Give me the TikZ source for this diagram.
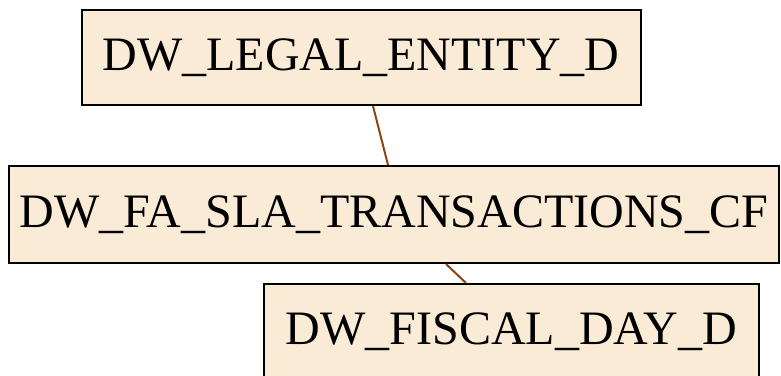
\documentclass[tikz,border=0pt]{standalone}
\usepackage{fontspec}
\setmainfont{Liberation Serif}
\definecolor{boxfill}{HTML}{FAEBD7}
\definecolor{edgecol}{HTML}{8B4513}
\begin{document}
\begin{tikzpicture}[x=1pt,y=1pt,
  tbl/.style={draw=black, line width=2pt, fill=boxfill, inner sep=0pt,
    font=\fontsize{48}{48}\selectfont, text height=25pt, text depth=0pt},
  link/.style={draw=edgecol, line width=2pt}]
\useasboundingbox (0,0) rectangle (781,-375);
\node[tbl, minimum width=559pt, minimum height=95pt] (b1) at (361,-57.5) {DW\_LEGAL\_ENTITY\_D};
\node[tbl, minimum width=770pt, minimum height=97pt] (b2) at (394,-214.5) {DW\_FA\_SLA\_TRANSACTIONS\_CF};
\node[tbl, minimum width=495pt, minimum height=96pt] (b3) at (511.5,-332) {DW\_FISCAL\_DAY\_D};
\draw[link] ([xshift=12pt]b1.south) -- ([xshift=-6pt]b2.north);
\draw[link] ([xshift=52pt]b2.south) -- ([xshift=-45.5pt]b3.north);
\end{tikzpicture}
\end{document}
